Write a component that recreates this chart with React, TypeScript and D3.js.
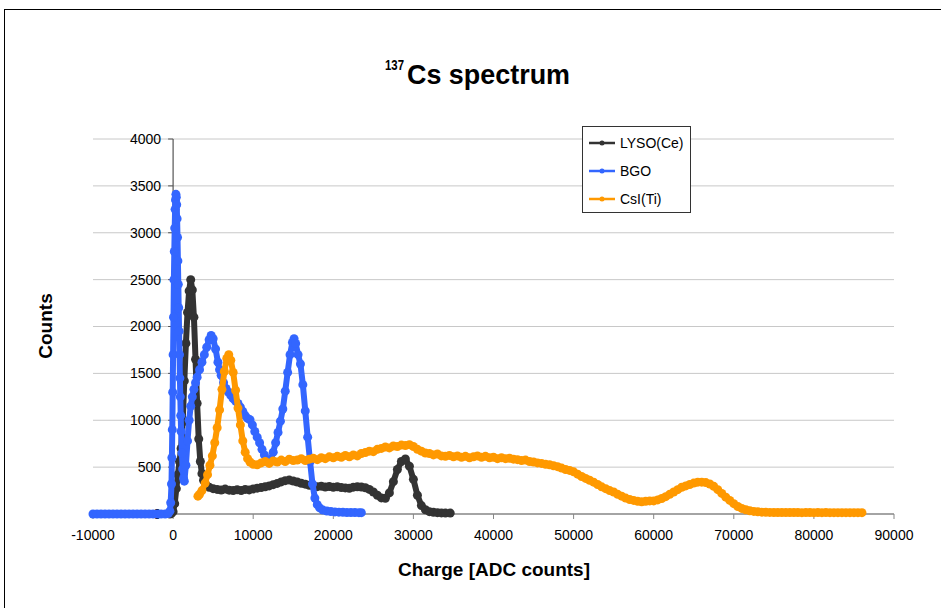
import React from 'react';
import * as d3 from 'd3';

// chart values (charge in ADC counts, counts)
const lysoData: [number, number][] = [
  [-400, 0], [-200, 8], [0, 25], [200, 110], [400, 270], [600, 420], [800, 560], [1000, 700],
  [1200, 980], [1400, 1420], [1600, 1820], [1800, 2150], [2000, 2380], [2200, 2500], [2400, 2390],
  [2600, 2100], [2800, 1650], [3000, 1180], [3200, 800], [3400, 560], [3600, 430], [3800, 360],
  [4100, 310], [4500, 285], [5000, 270], [5500, 262], [6000, 256], [6500, 266], [7000, 254],
  [7500, 250], [8000, 259], [8500, 251], [9000, 262], [9500, 257], [10000, 268], [10500, 276],
  [11000, 282], [11500, 291], [12000, 300], [12500, 313], [13000, 326], [13500, 342], [14000, 356],
  [14500, 362], [15000, 352], [15500, 341], [16000, 328], [16500, 318], [17000, 306], [17500, 300],
  [18000, 292], [18500, 297], [19000, 288], [19500, 293], [20000, 285], [20500, 291], [21000, 282],
  [21500, 278], [22000, 275], [22500, 286], [23000, 291], [23500, 288], [24000, 280], [24500, 262],
  [25000, 235], [25500, 200], [26000, 172], [26500, 168], [27000, 225], [27500, 345], [28000, 475],
  [28500, 560], [29000, 588], [29500, 510], [30000, 370], [30500, 200], [31000, 90], [31500, 45],
  [32000, 25], [32500, 18], [33000, 14], [33500, 12], [34000, 10], [34600, 10],
];

const bgoData: [number, number][] = [
  [-10000, 0], [-9500, 0], [-9000, 0], [-8500, 0], [-8000, 0], [-7500, 0], [-7000, 0], [-6500, 0],
  [-6000, 0], [-5500, 0], [-5000, 0], [-4500, 0], [-4000, 0], [-3500, 0], [-3000, 0], [-2500, 0],
  [-2000, 0], [-1500, 0], [-1000, 0], [-600, 5], [-400, 30], [-300, 120], [-200, 320], [-150, 600],
  [-100, 900], [-50, 1300], [0, 1700], [50, 2100], [100, 2500], [150, 2800], [200, 3050], [250, 3250],
  [300, 3350], [350, 3410], [400, 3380], [450, 3300], [500, 3150], [550, 2950], [600, 2700],
  [650, 2450], [700, 2200], [750, 1950], [800, 1700], [850, 1450], [900, 1250], [950, 1050],
  [1000, 880], [1100, 650], [1200, 480], [1300, 380], [1400, 350], [1600, 520], [1800, 780],
  [2000, 1000], [2200, 1150], [2400, 1250], [2600, 1330], [2800, 1400], [3000, 1460], [3300, 1540],
  [3600, 1620], [3900, 1700], [4200, 1780], [4500, 1860], [4750, 1905], [5000, 1870], [5300, 1760],
  [5600, 1620], [5800, 1540], [6000, 1480], [6300, 1400], [6600, 1340], [6900, 1300], [7200, 1265],
  [7500, 1230], [7800, 1205], [8100, 1180], [8400, 1140], [8700, 1095], [9000, 1050], [9300, 1020],
  [9600, 1005], [9900, 950], [10200, 880], [10500, 820], [10800, 760], [11100, 690], [11400, 630],
  [11700, 580], [12000, 560], [12200, 580], [12500, 660], [12800, 760], [13100, 870], [13400, 990],
  [13700, 1120], [14000, 1310], [14300, 1510], [14600, 1700], [14900, 1830], [15100, 1870],
  [15300, 1820], [15600, 1700], [15900, 1600], [16200, 1380], [16500, 1100], [16800, 820],
  [17100, 560], [17400, 320], [17700, 170], [18000, 100], [18300, 65], [18700, 42], [19200, 32],
  [19700, 26], [20200, 22], [20700, 20], [21200, 18], [21700, 16], [22200, 15], [22700, 15],
  [23200, 14], [23500, 14],
];

const csiData: [number, number][] = [
  [3100, 190], [3300, 210], [3600, 250], [4000, 330], [4300, 420], [4600, 520], [4900, 620],
  [5200, 760], [5500, 920], [5800, 1110], [6100, 1330], [6400, 1520], [6700, 1660], [6950, 1700],
  [7200, 1640], [7500, 1510], [7800, 1320], [8100, 1130], [8400, 950], [8700, 780], [9000, 660],
  [9300, 590], [9600, 555], [10000, 530], [10500, 525], [11000, 545], [11500, 560], [12000, 540],
  [12500, 565], [13000, 555], [13500, 575], [14000, 560], [14500, 585], [15000, 570], [15500, 575],
  [16000, 590], [16500, 570], [17000, 585], [17500, 595], [18000, 580], [18500, 600], [19000, 590],
  [19500, 610], [20000, 600], [20500, 615], [21000, 605], [21500, 625], [22000, 610], [22500, 630],
  [23000, 620], [23500, 645], [24000, 655], [24500, 670], [25000, 665], [25500, 690], [26000, 700],
  [26500, 715], [27000, 705], [27500, 725], [28000, 720], [28500, 735], [29000, 730], [29500, 740],
  [30000, 720], [30500, 690], [31000, 670], [31500, 650], [32000, 645], [32500, 630], [33000, 640],
  [33500, 620], [34000, 615], [34500, 625], [35000, 610], [35500, 620], [36000, 605], [36500, 615],
  [37000, 600], [37500, 610], [38000, 620], [38500, 605], [39000, 615], [39500, 600], [40000, 605],
  [40500, 590], [41000, 600], [41500, 590], [42000, 595], [42500, 585], [43000, 580], [43500, 570],
  [44000, 575], [44500, 560], [45000, 555], [45500, 545], [46000, 540], [46500, 530], [47000, 525],
  [47500, 515], [48000, 505], [48500, 490], [49000, 475], [49500, 465], [50000, 450], [50500, 425],
  [51000, 400], [51500, 380], [52000, 360], [52500, 340], [53000, 315], [53500, 290], [54000, 270],
  [54500, 250], [55000, 235], [55500, 210], [56000, 190], [56500, 170], [57000, 155], [57500, 145],
  [58000, 135], [58500, 130], [59000, 135], [59500, 140], [60000, 140], [60500, 150], [61000, 165],
  [61500, 185], [62000, 210], [62500, 235], [63000, 260], [63500, 285], [64000, 300], [64500, 315],
  [65000, 330], [65500, 340], [66000, 340], [66500, 335], [67000, 320], [67500, 295], [68000, 260],
  [68500, 220], [69000, 180], [69500, 145], [70000, 110], [70500, 80], [71000, 60], [71500, 45],
  [72000, 35], [72500, 28], [73000, 24], [73500, 20], [74000, 18], [74500, 17], [75000, 16],
  [75500, 16], [76000, 15], [76500, 16], [77000, 15], [77500, 15], [78000, 15], [78500, 14],
  [79000, 15], [79500, 15], [80000, 14], [80500, 15], [81000, 14], [81500, 15], [82000, 14],
  [82500, 14], [83000, 14], [83500, 14], [84000, 14], [84500, 14], [85000, 14], [85500, 14], [86000, 14],
];

const seriesNames = ['LYSO(Ce)', 'BGO', 'CsI(Ti)'];
const seriesColors = ['#333333', '#3366ff', '#ff9900'];
const xTicks = [-10000, 0, 10000, 20000, 30000, 40000, 50000, 60000, 70000, 80000, 90000];
const yTicks = [0, 500, 1000, 1500, 2000, 2500, 3000, 3500, 4000];

const W = 941;
const H = 608;
const plot = { left: 93, right: 894, top: 139, bottom: 514 };
const font = "'Liberation Sans', Arial, sans-serif";
const boldFont = "'Liberation Sans', Arial, sans-serif";

const App: React.FC = () => {
  const x = d3.scaleLinear().domain([-10000, 90000]).range([plot.left, plot.right]);
  const y = d3.scaleLinear().domain([0, 4000]).range([plot.bottom, plot.top]);
  const line = d3.line<[number, number]>().x(d => x(d[0])).y(d => y(d[1]));
  const all = [lysoData, bgoData, csiData];

  return (
    <svg width={W} height={H} style={{ position: 'absolute', left: 0, top: 0, background: '#fff' }}>
      <rect x={4.5} y={9.5} width={945} height={610} fill="#fff" stroke="#000" strokeWidth={1} />

      {/* title, narrow bold like the original */}
      <text x={385} y={70} fontFamily={boldFont} fontWeight="bold" fontSize={15} textLength={19} lengthAdjust="spacingAndGlyphs">137</text>
      <text x={407} y={84} fontFamily={boldFont} fontWeight="bold" fontSize={28} textLength={163} lengthAdjust="spacingAndGlyphs">
        Cs spectrum
      </text>

      {/* gridlines */}
      {yTicks.filter(t => t > 0).map(t => (
        <line key={t} x1={plot.left} x2={plot.right} y1={y(t)} y2={y(t)} stroke="#c8c8c8" strokeWidth={1} />
      ))}

      {/* y axis at x = 0 */}
      <line x1={x(0)} x2={x(0)} y1={plot.top} y2={plot.bottom} stroke="#555" strokeWidth={1.2} />
      {yTicks.map(t => (
        <g key={t}>
          <line x1={x(0) - 5} x2={x(0)} y1={y(t)} y2={y(t)} stroke="#555" strokeWidth={1} />
          <text x={x(0) - 12} y={y(t)} dy="0.35em" textAnchor="end" fontFamily={font} fontSize={14}>{t}</text>
        </g>
      ))}

      {/* x axis */}
      <line x1={plot.left} x2={plot.right} y1={plot.bottom} y2={plot.bottom} stroke="#868686" strokeWidth={1.5} />
      {xTicks.map(t => (
        <g key={t}>
          <line x1={x(t)} x2={x(t)} y1={plot.bottom} y2={plot.bottom + 5} stroke="#868686" strokeWidth={1} />
          <text x={x(t)} y={540} textAnchor="middle" fontFamily={font} fontSize={14}>{t}</text>
        </g>
      ))}

      {/* series: thick line plus round markers */}
      {all.map((data, i) => (
        <g key={seriesNames[i]}>
          <path d={line(data) || ''} fill="none" stroke={seriesColors[i]} strokeWidth={6} strokeLinejoin="round" strokeLinecap="round" />
          {data.map((d, j) => (
            <circle key={j} cx={x(d[0])} cy={y(d[1])} r={4.5} fill={seriesColors[i]} />
          ))}
        </g>
      ))}

      {/* axis titles */}
      <text x={398} y={576} fontFamily={boldFont} fontWeight="bold" fontSize={19} textLength={192} lengthAdjust="spacingAndGlyphs">
        Charge [ADC counts]
      </text>
      <text transform="translate(52,326) rotate(-90)" textAnchor="middle" fontFamily={boldFont} fontWeight="bold" fontSize={19}>
        Counts
      </text>

      {/* legend */}
      <rect x={582.5} y={126.5} width={108} height={86} fill="#fff" stroke="#333" strokeWidth={1} />
      {seriesNames.map((name, i) => {
        const ly = 143 + i * 28;
        return (
          <g key={name}>
            <line x1={589} x2={615} y1={ly} y2={ly} stroke={seriesColors[i]} strokeWidth={2.5} />
            <circle cx={602} cy={ly} r={2.5} fill={seriesColors[i]} />
            <text x={620} y={ly} dy="0.35em" fontFamily={font} fontSize={14}>{name}</text>
          </g>
        );
      })}
    </svg>
  );
};

export default App;
